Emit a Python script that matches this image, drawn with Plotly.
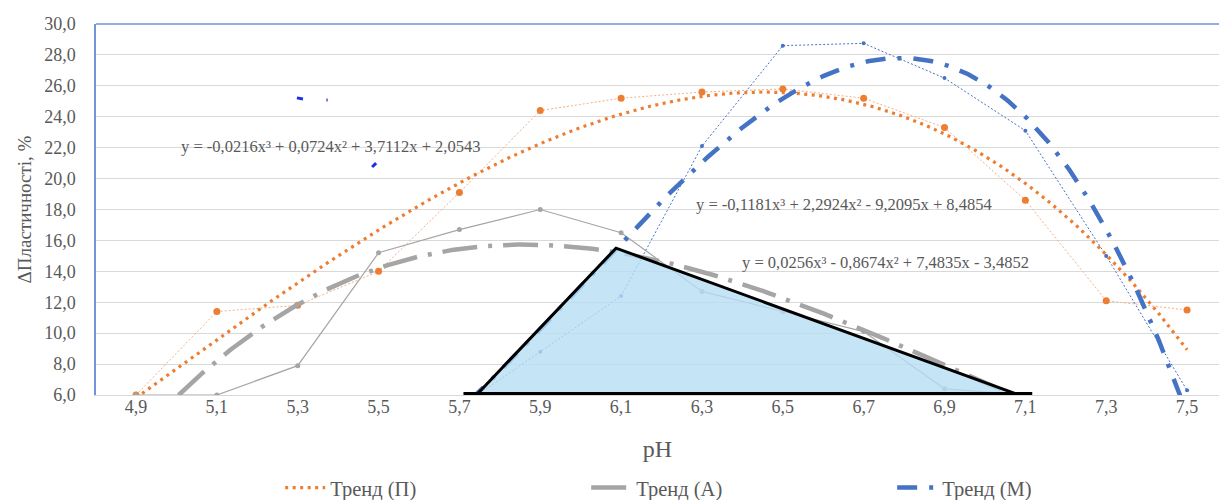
import numpy as np
import plotly.graph_objects as go

# pH categories and their axis labels
ph = [4.9, 5.1, 5.3, 5.5, 5.7, 5.9, 6.1, 6.3, 6.5, 6.7, 6.9, 7.1, 7.3, 7.5]
ph_labels = ["4,9", "5,1", "5,3", "5,5", "5,7", "5,9", "6,1", "6,3", "6,5", "6,7", "6,9", "7,1", "7,3", "7,5"]

# Measured plasticity change, %
plast_P = [6.0, 11.4, 11.8, 14.0, 19.1, 24.4, 25.2, 25.6, 25.8, 25.2, 23.3, 18.6, 12.1, 11.5]
plast_A = [6.0, 6.0, 7.9, 15.2, 16.7, 18.0, 16.5, 12.7, 11.4, 10.1, 6.4, 6.0, None, None]
plast_M = [None, None, None, None, 5.2, 8.8, 12.4, 22.1, 28.6, 28.75, 26.5, 23.1, 15.0, 6.3]

# Cubic trend coefficients (x = category index 1..14)
coef_P = [-0.0216, 0.0724, 3.7112, 2.0543]
coef_A = [0.0256, -0.8674, 7.4835, -3.4852]
coef_M = [-0.1181, 2.2924, -9.2095, 8.4854]

eq_P = "y = -0,0216x³ + 0,0724x² + 3,7112x + 2,0543"
eq_M = "y = -0,1181x³ + 2,2924x² - 9,2095x + 8,4854"
eq_A = "y = 0,0256x³ - 0,8674x² + 7,4835x - 3,4852"

# Highlighted region (pH, %)
zone_x = [5.742, 6.0875, 7.085]
zone_y = [6.0, 15.5, 6.0]
zone_base_x = [5.71, 7.117]
zone_base_y = [6.0, 6.0]

# Small hand-drawn pen strokes
pen_x = [5.298, 5.313, None, 5.371, 5.374, None, 5.484, 5.494]
pen_y = [25.22, 25.15, None, 25.08, 25.08, None, 20.75, 21.0]

ORANGE = "#ED7D31"
GREY = "#A5A5A5"
BLUE = "#4472C4"
TXT = "#595959"
FONT = "Liberation Serif, Times New Roman, serif"

idx = np.linspace(1, 14, 600)
trend_x = 4.9 + (idx - 1) * 0.2

fig = go.Figure()

# measured series
fig.add_trace(go.Scatter(x=ph, y=plast_P, mode="lines+markers", showlegend=False,
                         line=dict(color="#F4B183", width=1, dash="2px,2px"),
                         marker=dict(color=ORANGE, size=7), hoverinfo="skip"))
fig.add_trace(go.Scatter(x=ph, y=plast_A, mode="lines+markers", showlegend=False,
                         line=dict(color=GREY, width=1.2),
                         marker=dict(color=GREY, size=5), hoverinfo="skip"))
fig.add_trace(go.Scatter(x=ph, y=plast_M, mode="lines+markers", showlegend=False,
                         line=dict(color=BLUE, width=1, dash="2px,2px"),
                         marker=dict(color=BLUE, size=4), hoverinfo="skip"))

# trend curves
fig.add_trace(go.Scatter(x=trend_x, y=np.polyval(coef_P, idx), mode="lines", name="Тренд (П)",
                         line=dict(color=ORANGE, width=3.2, dash="3px,4.5px")))
fig.add_trace(go.Scatter(x=trend_x, y=np.polyval(coef_A, idx), mode="lines", name="Тренд (А)",
                         line=dict(color=GREY, width=4.5, dash="35px,11px,4px,11px")))
fig.add_trace(go.Scatter(x=trend_x, y=np.polyval(coef_M, idx), mode="lines", name="Тренд (М)",
                         line=dict(color=BLUE, width=4.5, dash="20px,12px,4px,12px")))

# highlighted zone
fig.add_trace(go.Scatter(x=zone_x, y=zone_y, mode="lines", fill="toself",
                         fillcolor="rgba(182,222,244,0.8)", showlegend=False,
                         line=dict(color="black", width=3), hoverinfo="skip"))
fig.add_trace(go.Scatter(x=zone_base_x, y=zone_base_y, mode="lines", showlegend=False,
                         line=dict(color="black", width=6), hoverinfo="skip"))

# pen strokes
fig.add_trace(go.Scatter(x=pen_x, y=pen_y, mode="lines", showlegend=False,
                         line=dict(color="#1E2EE8", width=3), hoverinfo="skip"))

for text, xc, yc in [(eq_P, 5.382, 22.1), (eq_M, 6.652, 18.3), (eq_A, 6.755, 14.6)]:
    fig.add_annotation(x=xc, y=yc, xref="x", yref="y", text=text, showarrow=False,
                       font=dict(family=FONT, size=16.5, color=TXT))

# top border of the plot area
fig.add_shape(type="line", xref="paper", yref="paper", x0=0, x1=1, y0=1, y1=1,
              line=dict(color="#6F95D8", width=1.5))

fig.update_layout(
    width=1219, height=500,
    margin=dict(l=96, r=0, t=24, b=105, autoexpand=False),
    paper_bgcolor="white", plot_bgcolor="white",
    separators=", ",
    font=dict(family=FONT, size=18, color=TXT),
    showlegend=True,
    legend=dict(orientation="h", x=0.164, xanchor="left", y=-0.25, yanchor="middle",
                font=dict(family=FONT, size=20.5, color=TXT),
                itemwidth=40, entrywidth=251, entrywidthmode="pixels",
                bgcolor="rgba(0,0,0,0)"),
    xaxis=dict(range=[4.801, 7.579], tickvals=ph, ticktext=ph_labels,
               showgrid=False, zeroline=False, showline=True, linecolor="#D9D9D9",
               ticks="", ticklen=0, ticklabelstandoff=-5,
               tickfont=dict(family=FONT, size=18, color=TXT),
               title=dict(text="pH", font=dict(family=FONT, size=24, color=TXT), standoff=24)),
    yaxis=dict(range=[6, 30], tick0=6, dtick=2, tickformat=".1f",
               showgrid=True, gridcolor="#D9D9D9", gridwidth=1, zeroline=False,
               showline=True, linecolor="#6F95D8", linewidth=1.5,
               ticks="", ticklabelstandoff=15,
               tickfont=dict(family=FONT, size=18, color=TXT),
               title=dict(text="ΔПластичності, %", font=dict(family=FONT, size=19, color=TXT),
                          standoff=8)),
)

fig.write_html("out.html")
